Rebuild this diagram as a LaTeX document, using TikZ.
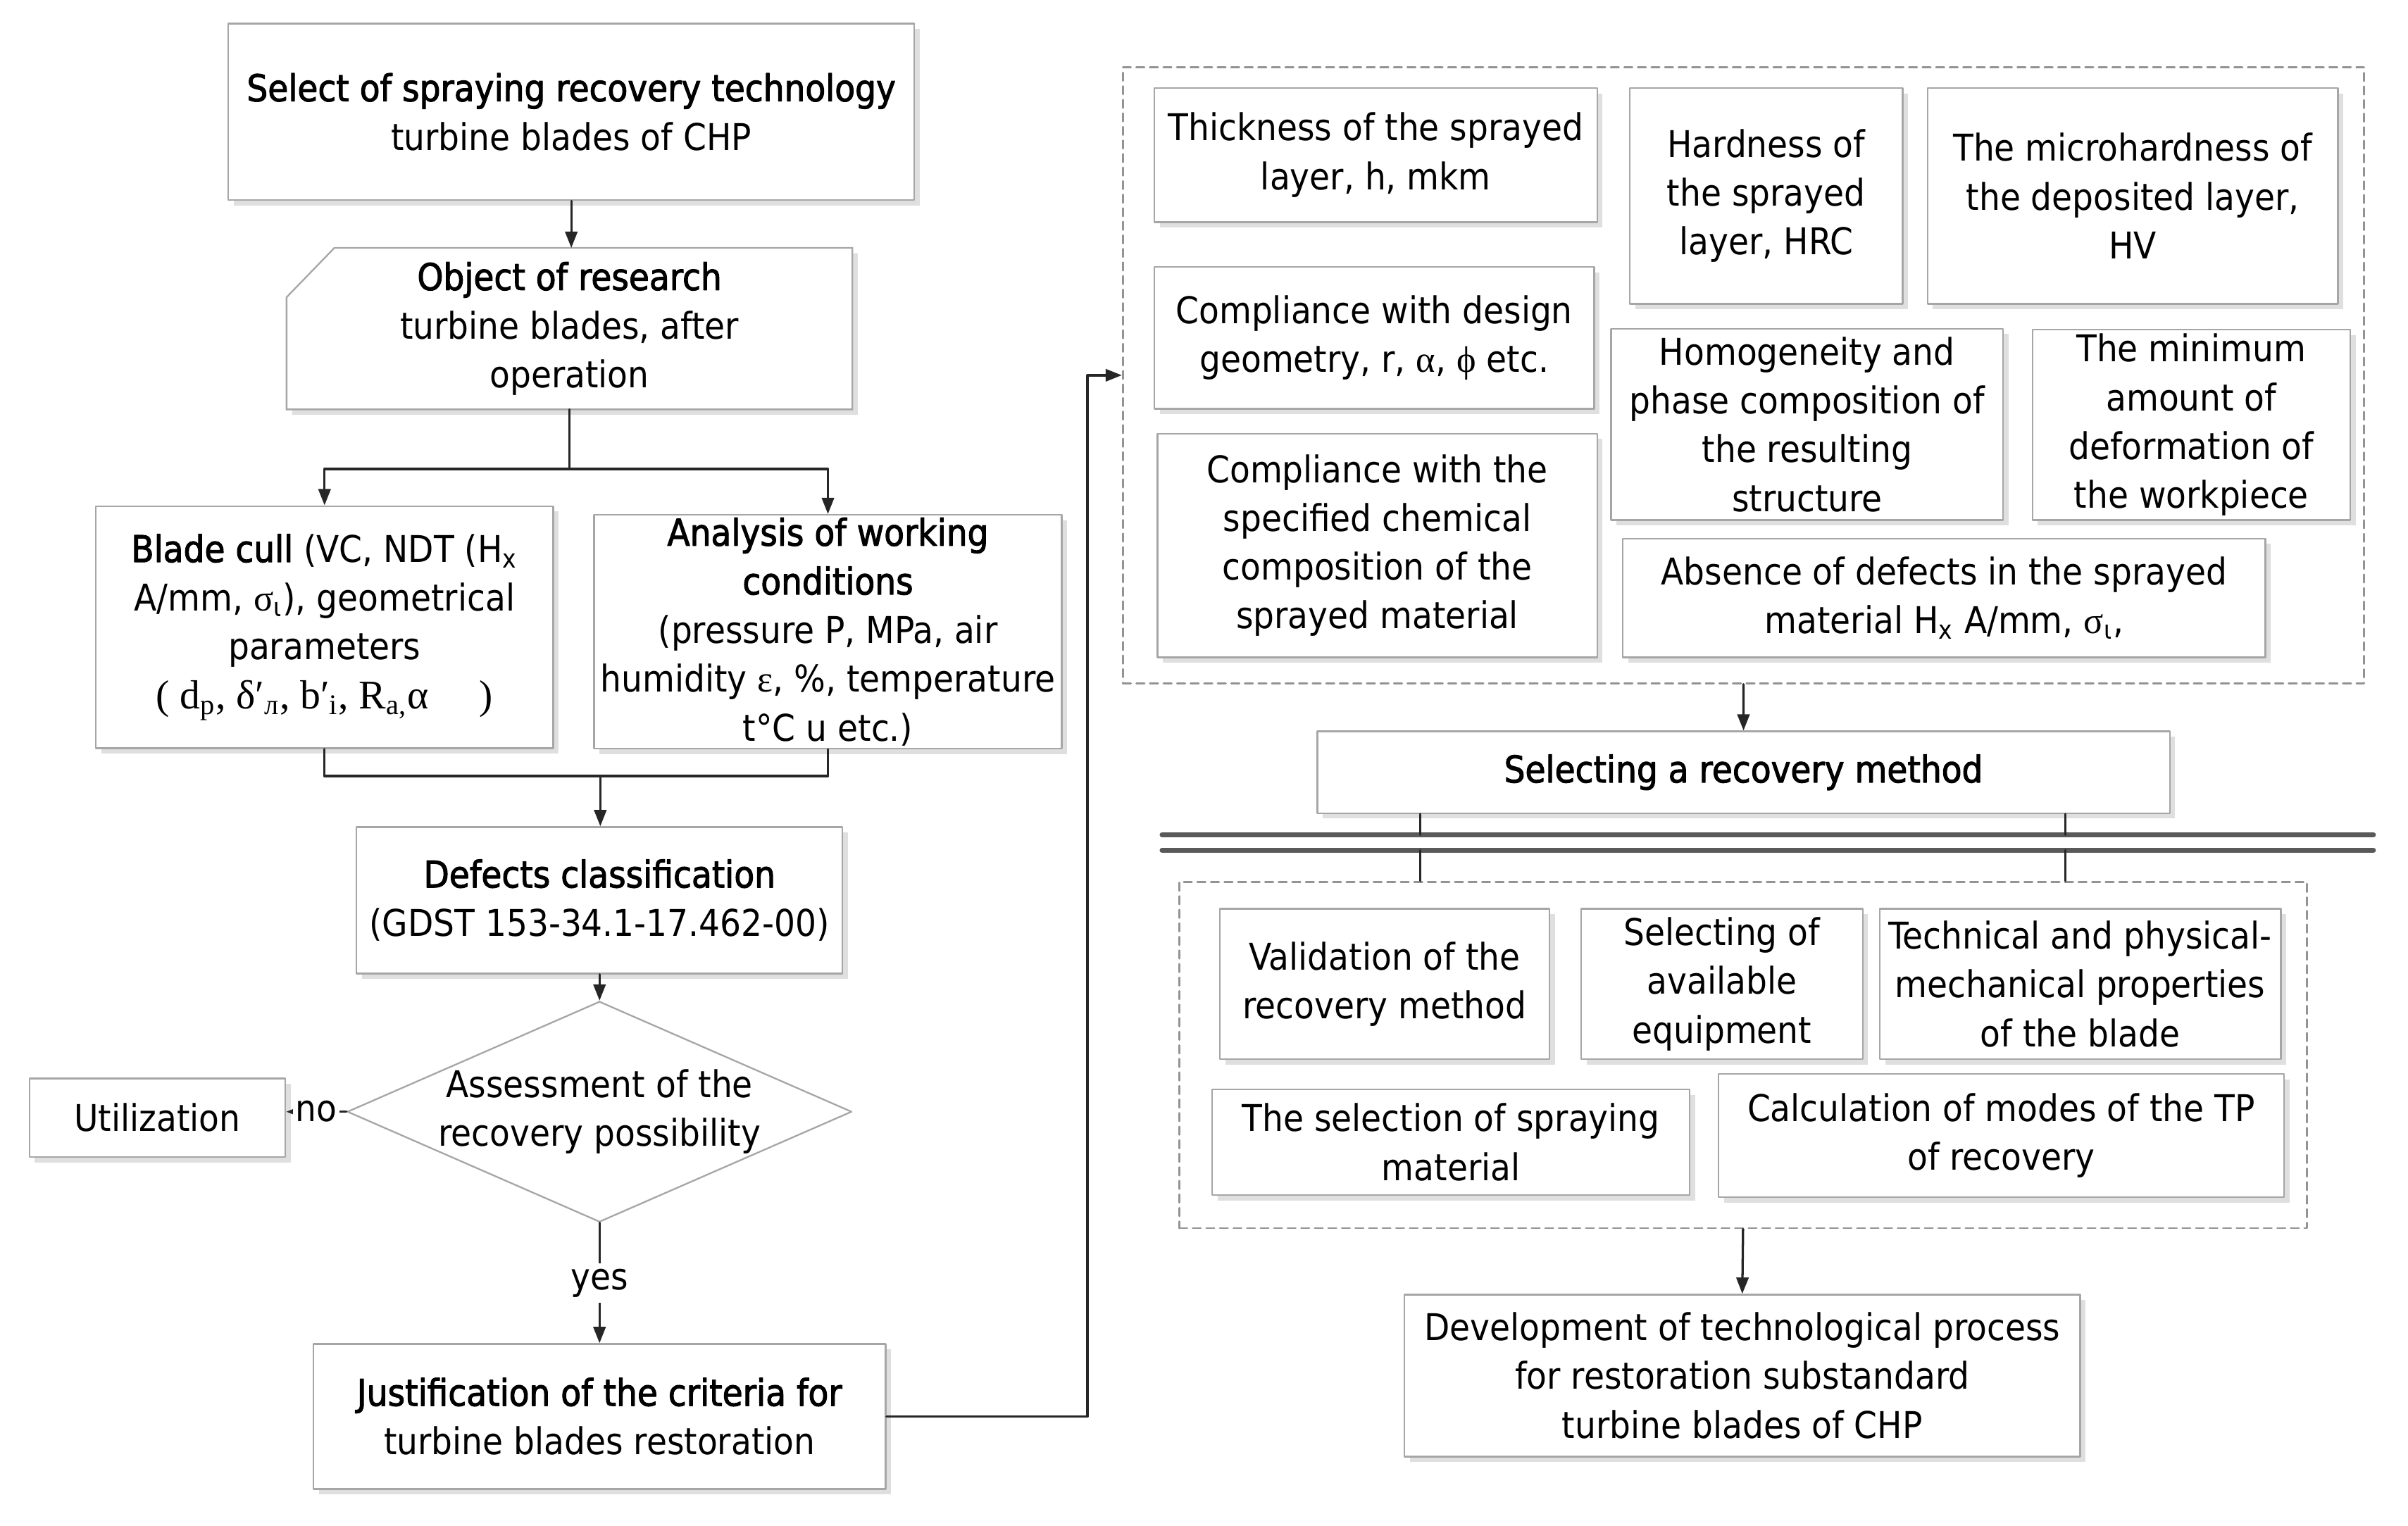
\documentclass[tikz,border=0pt]{standalone}
\usepackage{fontspec}
\setmainfont{DejaVu Sans Condensed}[BoldFont={DejaVu Sans Condensed},BoldFeatures={FakeBold=2}]
\newfontfamily\grfont{Liberation Serif}
\usetikzlibrary{arrows.meta,shapes.geometric,shadows,backgrounds}
\tikzset{
	box/.style={draw=gray!70,fill=white,line width=0.6pt,align=center,inner sep=1pt,
		drop shadow={shadow xshift=0.07cm,shadow yshift=-0.07cm,opacity=0.25,fill=gray}},
	card/.style={draw=gray!70,fill=white,line width=0.6pt,
		drop shadow={shadow xshift=0.07cm,shadow yshift=-0.07cm,opacity=0.25,fill=gray}},
	link/.style={draw=black!85,line width=0.85pt},
	dashbox/.style={draw=gray!85,line width=0.7pt,dash pattern=on 3pt off 2pt},
	rail/.style={draw=black!65,line width=1.8pt},
}

\begin{document}
\begin{tikzpicture}[line cap=round,line join=round,>={Triangle[length=6pt,width=4.5pt]},x=0.02cm,y=-0.02cm,
	every node/.style={font=\fontsize{13.6}{18}\selectfont}]
	\useasboundingbox (0,0) rectangle (1560.4,989);
	% left column
	\node (top) [box,minimum width=8.89cm,minimum height=2.29cm] at (370.2,72.5) {\bfseries Select of spraying recovery technology\\turbine blades of CHP};
	\node (obj) [align=center,inner sep=1pt,minimum width=7.32cm,minimum height=2.08cm] at (369,213) {\textbf{Object of research}\\turbine blades, after\\operation};
	\begin{scope}[on background layer]
		\draw [card] ([yshift=-0.64cm]obj.north west) -- ([xshift=0.62cm]obj.north west) -- (obj.north east) -- (obj.south east) -- (obj.south west) -- cycle;
	\end{scope}
	\node (cull) [box,minimum width=5.93cm,minimum height=3.14cm] at (210.3,406.5) {\textbf{Blade cull} (VC, NDT (H\textsubscript{x}\\A/mm, {\grfont σ}\textsubscript{ι}), geometrical\\parameters\\{\grfont\fontsize{15}{18}\selectfont ( d\textsubscript{p}, δ′\textsubscript{л}, b′\textsubscript{i}, R\textsubscript{a,}α \quad)}};
	\node (anal) [box,minimum width=6.06cm,minimum height=3.03cm] at (536.5,409.4) {\textbf{Analysis of working}\\\textbf{conditions}\\(pressure P, MPa, air\\humidity {\grfont ε}, \%, temperature\\t°C u etc.)};
	\node (defects) [box,minimum width=6.30cm,minimum height=1.90cm] at (388.5,583.5) {\bfseries Defects classification\\(GDST 153-34.1-17.462-00)};
	\node (assess) [diamond,draw=gray!70,fill=white,line width=0.6pt,inner sep=0pt,minimum width=6.54cm,minimum height=2.86cm,
		label={[align=center]center:Assessment of the\\recovery possibility}] at (388.5,720.5) {};
	\node (util) [box,minimum width=3.32cm,minimum height=1.02cm] at (102,724.5) {Utilization};
	\node (just) [box,minimum width=7.42cm,minimum height=1.88cm] at (388.5,918) {\bfseries Justification of the criteria for\\turbine blades restoration};
	% criteria block
	\node (crit) [dashbox,minimum width=16.09cm,minimum height=7.99cm] at (1129.75,243.2) {};
	\node (thick) [box,minimum width=5.74cm,minimum height=1.74cm] at (891.5,100.5) {Thickness of the sprayed\\layer, h, mkm};
	\node (hard) [box,minimum width=3.54cm,minimum height=2.80cm] at (1144.5,127) {Hardness of\\the sprayed\\layer, HRC};
	\node (micro) [box,minimum width=5.32cm,minimum height=2.80cm] at (1382,127) {The microhardness of\\the deposited layer,\\HV};
	\node (design) [box,minimum width=5.70cm,minimum height=1.84cm] at (890.5,219) {Compliance with design\\geometry, r, {\grfont α}, {\grfont ϕ} etc.};
	\node (homog) [box,minimum width=5.08cm,minimum height=2.48cm] at (1171,275) {Homogeneity and\\phase composition of\\the resulting\\structure};
	\node (minim) [box,minimum width=4.12cm,minimum height=2.47cm] at (1420,275.3) {The minimum\\amount of\\deformation of\\the workpiece};
	\node (chem) [box,minimum width=5.70cm,minimum height=2.90cm] at (892.5,353.5) {Compliance with the\\specified chemical\\composition of the\\sprayed material};
	\node (absence) [box,minimum width=8.33cm,minimum height=1.54cm] at (1259.8,387.5) {Absence of defects in the sprayed\\material H\textsubscript{x} A/mm, {\grfont σ}\textsubscript{ι},};
	\node (select) [box,minimum width=11.05cm,minimum height=1.06cm] at (1129.8,500.5) {\bfseries Selecting a recovery method};
	% method block
	\node (meth) [dashbox,minimum width=14.62cm,minimum height=4.49cm] at (1129.5,683.75) {};
	\node (valid) [box,minimum width=4.27cm,minimum height=1.95cm] at (897.3,637.75) {Validation of the\\recovery method};
	\node (equip) [box,minimum width=3.65cm,minimum height=1.95cm] at (1115.8,637.75) {Selecting of\\available\\equipment};
	\node (tech) [box,minimum width=5.20cm,minimum height=1.95cm] at (1348,637.75) {Technical and physical-\\mechanical properties\\of the blade};
	\node (spray) [box,minimum width=6.19cm,minimum height=1.37cm] at (940.25,740.25) {The selection of spraying\\material};
	\node (calc) [box,minimum width=7.33cm,minimum height=1.60cm] at (1296.8,736) {Calculation of modes of the TP\\of recovery};
	\node (devel) [box,minimum width=8.76cm,minimum height=2.10cm] at (1129,891.5) {Development of technological process\\for restoration substandard\\turbine blades of CHP};
	% connectors
	\coordinate (split) at (369,304);
	\coordinate (merge) at (389,503);
	\coordinate (turn) at (704.7,243.2);
	\coordinate (railA) at (753,541);
	\coordinate (railB) at (1538,541);
	\coordinate (railC) at (753,551);
	\coordinate (railD) at (1538,551);
	\draw [link,->] (top.south) -- (top.south |- obj.north);
	\draw [link] (obj.south) -- (split);
	\draw [link,->] (split) -| (cull.north);
	\draw [link,->] (split) -| (anal.north);
	\draw [link] (cull.south) |- (merge) -| (anal.south);
	\draw [link,->] (merge) -- (merge |- defects.north);
	\draw [link,->] (defects.south) -- (assess.north);
	\draw [link,->] (assess.west) -- node (lblno) [fill=white,inner sep=1pt] {no} (assess.west -| util.east);
	\draw [link,->] (assess.south) -- node (lblyes) [fill=white,inner sep=2pt] {yes} (assess.south |- just.north);
	\draw [link,->] (just.east) -| (turn) -- (crit.west);
	\draw [link,->] (crit.south) -- (select.north);
	\draw [rail] (railA) -- (railB);
	\draw [rail] (railC) -- (railD);
	\draw [link] ([xshift=-4.19cm]select.south) -- ([xshift=-4.19cm]select.south |- railA);
	\draw [link] ([xshift=4.17cm]select.south) -- ([xshift=4.17cm]select.south |- railA);
	\draw [link] ([xshift=-4.19cm]select.south |- railC) -- ([xshift=-4.19cm]select.south |- meth.north);
	\draw [link] ([xshift=4.17cm]select.south |- railC) -- ([xshift=4.17cm]select.south |- meth.north);
	\draw [link,->] (meth.south) -- (devel.north);
\end{tikzpicture}
\end{document}
